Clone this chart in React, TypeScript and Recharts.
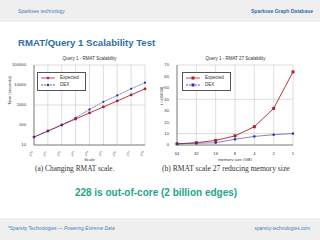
import React from 'react'
import {
  LineChart,
  Line,
  XAxis,
  YAxis,
  CartesianGrid,
  Legend,
  Label,
} from 'recharts'

const scaleExp = ['20', '21', '22', '23', '24', '25', '26', '27', '28']
const expectedTime = [25, 50, 100, 200, 400, 800, 1600, 3200, 6400]
const dexTime = [25, 50, 100, 230, 600, 1450, 3000, 6500, 13000]
const timeTicks = [10, 100, 1000, 10000, 100000]

const memSizes = ['64', '32', '16', '8', '4', '2', '1']
const expectedRatio = [1, 2, 4, 8, 16, 32, 64]
const dexRatio = [1, 1.5, 2, 5, 7.5, 9, 10]
const ratioTicks = [0, 10, 20, 30, 40, 50, 60, 70]

const seriesOrder = ['Expected', 'DEX']

const RED = '#b0202a'
const BLUE = '#3030a0'
const SANS = '"Liberation Sans", Arial, sans-serif'
const SERIF = '"Liberation Serif", "DejaVu Serif", serif'
const HEAD_BLUE = '#2f6ea6'

const scaleData = scaleExp.map((x, i) => ({ x, expected: expectedTime[i], dex: dexTime[i] }))
const memData = memSizes.map((x, i) => ({ x, expected: expectedRatio[i], dex: dexRatio[i] }))

function PowTick({ x, y, payload }: any) {
  return (
    <g transform={`translate(${x},${y})`}>
      <text transform="rotate(-45)" textAnchor="end" fontSize={3.8} fill="#333" fontFamily={SERIF}>
        2<tspan dy={-1.5} fontSize={3}>{payload.value}</tspan>
      </text>
    </g>
  )
}

function squareDot(size: number, color: string) {
  return (props: any) => {
    const { cx, cy, index } = props
    if (cx == null || cy == null) return <g key={index} />
    return (
      <rect key={index} x={cx - size / 2} y={cy - size / 2} width={size} height={size} fill={color} />
    )
  }
}

function makeLegend(square: boolean) {
  return ({ payload }: any) => {
    const items = [...(payload || [])].sort(
      (a: any, b: any) => seriesOrder.indexOf(a.value) - seriesOrder.indexOf(b.value)
    )
    return (
      <div
        style={{
          border: '0.5px solid #555',
          background: '#fff',
          padding: '2px 6px 2px 2px',
          fontSize: 4.5,
          fontFamily: SANS,
          color: '#333',
          lineHeight: '6px',
        }}
      >
        {items.map((p: any) => (
          <div key={p.value} style={{ display: 'flex', alignItems: 'center', height: 6.5 }}>
            <svg width={16} height={6}>
              <line
                x1={1}
                x2={15}
                y1={3}
                y2={3}
                stroke={p.color}
                strokeWidth={0.8}
                strokeDasharray={p.value === 'DEX' ? '2 1' : undefined}
              />
              {square ? (
                <rect x={6.5} y={1.5} width={3} height={3} fill={p.color} />
              ) : (
                <circle cx={8} cy={3} r={1.3} fill={p.color} />
              )}
            </svg>
            <span style={{ marginLeft: 4 }}>{p.value}</span>
          </div>
        ))}
      </div>
    )
  }
}

const smallTick = { fontSize: 4.2, fill: '#333', fontFamily: SANS }

export default function App() {
  return (
    <div
      style={{
        position: 'absolute',
        left: 0,
        top: 0,
        width: 320,
        height: 240,
        background: '#fff',
        fontFamily: SANS,
        overflow: 'hidden',
      }}
    >
      {/* header */}
      <div style={{ position: 'absolute', left: 0, top: 0, width: 320, height: 22, background: '#efefef' }} />
      <div style={{ position: 'absolute', left: 18, top: 8, fontSize: 5, color: '#4a80b4' }}>
        Sparksee technology
      </div>
      <div style={{ position: 'absolute', right: 7, top: 8, fontSize: 5, fontWeight: 'bold', color: HEAD_BLUE }}>
        Sparksee Graph Database
      </div>
      <div
        style={{
          position: 'absolute',
          left: 18,
          top: 37,
          fontSize: 9.6,
          fontWeight: 'bold',
          color: HEAD_BLUE,
        }}
      >
        RMAT/Query 1 Scalability Test
      </div>

      {/* left chart */}
      <div style={{ position: 'absolute', left: 34, width: 111, top: 56, fontSize: 4.5, textAlign: 'center', color: '#333' }}>
        Query 1 - RMAT Scalability
      </div>
      <div style={{ position: 'absolute', left: 0, top: 58 }}>
        <LineChart width={155} height={103} data={scaleData} margin={{ top: 7, right: 10, bottom: 0, left: 0 }}>
          <CartesianGrid stroke="#c8c8c8" strokeWidth={0.6} />
          <XAxis
            dataKey="x"
            height={16}
            tick={<PowTick />}
            tickLine={false}
            interval={0}
            stroke="#444"
            strokeWidth={0.6}
          >
            <Label value="Scale" position="insideBottom" offset={0} fontSize={4.2} fill="#333" />
          </XAxis>
          <XAxis xAxisId="top" orientation="top" dataKey="x" height={0} tick={false} tickLine={false} stroke="#444" strokeWidth={0.6} />
          <YAxis
            scale="log"
            domain={[10, 100000]}
            ticks={timeTicks}
            allowDataOverflow
            width={34}
            tick={smallTick}
            tickLine={false}
            stroke="#444"
            strokeWidth={0.6}
          >
            <Label value="Time (seconds)" angle={-90} position="insideLeft" offset={10} fontSize={4.2} fill="#333" />
          </YAxis>
          <YAxis yAxisId="right" orientation="right" width={0} tick={false} tickLine={false} stroke="#444" strokeWidth={0.6} />
          <Legend
            layout="horizontal"
            verticalAlign="middle"
            align="center"
            content={makeLegend(false)}
            wrapperStyle={{ left: 37, top: 14, width: 'auto', height: 'auto' }}
          />
          <Line
            name="Expected"
            dataKey="expected"
            stroke={RED}
            strokeWidth={0.9}
            dot={{ r: 1.4, fill: RED, stroke: RED, strokeWidth: 0 }}
            isAnimationActive={false}
          />
          <Line
            name="DEX"
            dataKey="dex"
            stroke={BLUE}
            strokeWidth={0.6}
            strokeDasharray="2 0.6"
            dot={{ r: 1.1, fill: BLUE, stroke: BLUE, strokeWidth: 0 }}
            isAnimationActive={false}
          />
        </LineChart>
      </div>
      <div style={{ position: 'absolute', left: 35, top: 164, fontSize: 7.4, color: '#333', fontFamily: SERIF, whiteSpace: 'nowrap' }}>
        (a) Changing RMAT scale.
      </div>

      {/* right chart */}
      <div style={{ position: 'absolute', left: 177, width: 117, top: 56, fontSize: 4.5, textAlign: 'center', color: '#333' }}>
        Query 1 - RMAT 27 Scalability
      </div>
      <div style={{ position: 'absolute', left: 160, top: 58 }}>
        <LineChart width={160} height={103} data={memData} margin={{ top: 7, right: 27, bottom: 0, left: 0 }}>
          <CartesianGrid stroke="#c8c8c8" strokeWidth={0.6} />
          <XAxis dataKey="x" height={16} tick={smallTick} tickLine={false} interval={0} stroke="#444" strokeWidth={0.6} tickMargin={1}>
            <Label value="memory size (GB)" position="insideBottom" offset={0} fontSize={4.2} fill="#333" />
          </XAxis>
          <XAxis xAxisId="top" orientation="top" dataKey="x" height={0} tick={false} tickLine={false} stroke="#444" strokeWidth={0.6} />
          <YAxis domain={[0, 70]} ticks={ratioTicks} width={17} tick={smallTick} tickLine={false} stroke="#444" strokeWidth={0.6}>
            <Label value="t / t(64GB)" angle={-90} position="insideLeft" offset={2} fontSize={4} fill="#333" />
          </YAxis>
          <YAxis yAxisId="right" orientation="right" width={0} tick={false} tickLine={false} stroke="#444" strokeWidth={0.6} />
          <Legend
            layout="horizontal"
            verticalAlign="middle"
            align="center"
            content={makeLegend(true)}
            wrapperStyle={{ left: 22, top: 14, width: 'auto', height: 'auto' }}
          />
          <Line
            name="Expected"
            dataKey="expected"
            stroke={RED}
            strokeWidth={0.9}
            dot={squareDot(3, RED)}
            isAnimationActive={false}
          />
          <Line
            name="DEX"
            dataKey="dex"
            stroke={BLUE}
            strokeWidth={0.6}
            dot={squareDot(2.2, BLUE)}
            isAnimationActive={false}
          />
        </LineChart>
      </div>
      <div style={{ position: 'absolute', left: 162, top: 164, fontSize: 7.6, color: '#333', fontFamily: SERIF, whiteSpace: 'nowrap' }}>
        (b) RMAT scale 27 reducing memory size
      </div>

      <div
        style={{
          position: 'absolute',
          left: 0,
          width: 312,
          top: 187,
          fontSize: 10,
          fontWeight: 'bold',
          textAlign: 'center',
          color: '#1fa58a',
        }}
      >
        228 is out-of-core (2 billion edges)
      </div>

      {/* footer */}
      <div style={{ position: 'absolute', left: 0, top: 218, width: 320, height: 22, background: '#efefef' }} />
      <div style={{ position: 'absolute', left: 8, top: 226, fontSize: 4.8, color: '#4a80b4' }}>
        *Sparsity Technologies — <i>Powering Extreme Data</i>
      </div>
      <div style={{ position: 'absolute', right: 10, top: 226, fontSize: 4.8, color: '#4a80b4' }}>
        sparsity-technologies.com
      </div>
    </div>
  )
}
